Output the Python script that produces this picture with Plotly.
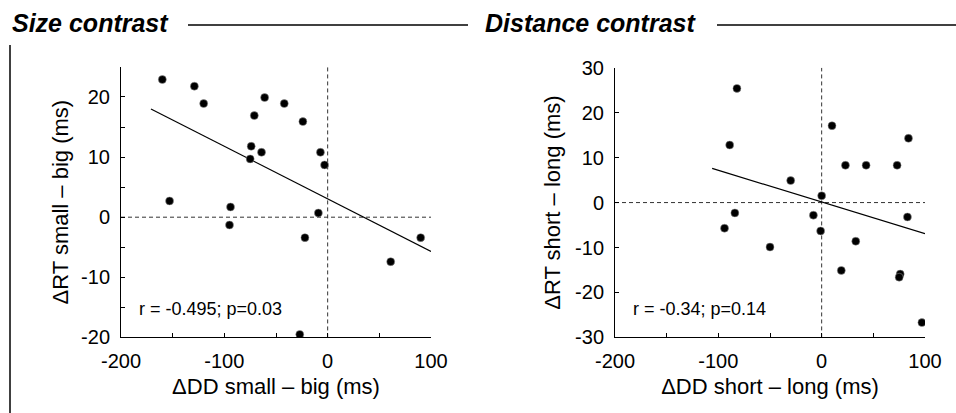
import plotly.graph_objects as go

# --- data ---
# Size contrast panel
size_dd = [-160, -129, -120, -61, -42, -71, -24, -74, -64, -75, -7, -3,
           -153, -94, -95, -9, -22, 90, 61, -27]
size_rt = [22.9, 21.8, 18.9, 19.9, 18.9, 16.9, 15.9, 11.8, 10.8, 9.7, 10.8, 8.7,
           2.7, 1.7, -1.3, 0.7, -3.4, -3.4, -7.4, -19.5]
size_fit_x = [-171, 100]
size_fit_y = [18.0, -5.7]

# Distance contrast panel
dist_dd = [-82, -89, 10, 84, 23, 43, 73, -30, 0, -84, -94, -8, -1, -50, 33, 83,
           19, 76, 75, 97]
dist_rt = [25.4, 12.8, 17.1, 14.3, 8.3, 8.3, 8.3, 4.9, 1.5, -2.3, -5.7, -2.8, -6.3,
           -9.9, -8.6, -3.2, -15.1, -15.9, -16.6, -26.7]
dist_fit_x = [-106, 100]
dist_fit_y = [7.6, -6.9]

# tick labels (hyphen minus as in the original)
x_ticks = [-200, -100, 0, 100]
x_labels = ["-200", "-100", "0", "100"]
size_y_ticks = [-20, -10, 0, 10, 20]
size_y_labels = ["-20", "-10", "0", "10", "20"]
dist_y_ticks = [-30, -20, -10, 0, 10, 20, 30]
dist_y_labels = ["-30", "-20", "-10", "0", "10", "20", "30"]

FONT = "Liberation Sans, Arial, sans-serif"
DASH = "4px,3px"

fig = go.Figure()

panels = [
    dict(xa="x", ya="y", dd=size_dd, rt=size_rt, fx=size_fit_x, fy=size_fit_y,
         yr=[-20, 25], stats="r = -0.495; p=0.03", sy=-15.3),
    dict(xa="x2", ya="y2", dd=dist_dd, rt=dist_rt, fx=dist_fit_x, fy=dist_fit_y,
         yr=[-30, 30], stats="r = -0.34; p=0.14", sy=-23.7),
]

for p in panels:
    # dashed zero lines
    fig.add_trace(go.Scatter(x=[-200, 100], y=[0, 0], mode="lines",
                             line=dict(color="#333", width=1, dash=DASH),
                             xaxis=p["xa"], yaxis=p["ya"], hoverinfo="skip"))
    fig.add_trace(go.Scatter(x=[0, 0], y=p["yr"], mode="lines",
                             line=dict(color="#333", width=1, dash=DASH),
                             xaxis=p["xa"], yaxis=p["ya"], hoverinfo="skip"))
    # regression line
    fig.add_trace(go.Scatter(x=p["fx"], y=p["fy"], mode="lines",
                             line=dict(color="black", width=1.2),
                             xaxis=p["xa"], yaxis=p["ya"]))
    # subjects
    fig.add_trace(go.Scatter(x=p["dd"], y=p["rt"], mode="markers",
                             marker=dict(color="black", size=8,
                                         line=dict(color="#999", width=0.5)),
                             xaxis=p["xa"], yaxis=p["ya"]))
    fig.add_annotation(x=-185, y=p["sy"], xref=p["xa"], yref=p["ya"],
                       text=p["stats"], showarrow=False, xanchor="left",
                       font=dict(size=18, color="black", family=FONT))

axis_common = dict(showline=True, linecolor="black", linewidth=1, ticks="inside",
                   ticklen=4, tickcolor="black", showgrid=False, zeroline=False,
                   automargin=False, ticklabelstandoff=6,
                   tickfont=dict(size=20, color="black", family=FONT),
                   title_font=dict(size=22, color="black", family=FONT))

fig.update_layout(
    width=956, height=413,
    margin=dict(l=0, r=0, t=0, b=0),
    paper_bgcolor="white", plot_bgcolor="white",
    showlegend=False,
    font=dict(family=FONT, color="black"),
    xaxis=dict(domain=[121 / 956, 431 / 956], range=[-200, 100],
               tickvals=x_ticks, ticktext=x_labels,
               minor=dict(dtick=50, ticks="inside", ticklen=4, tickcolor="black"),
               title=dict(text="ΔDD small – big (ms)", standoff=7), anchor="y",
               **axis_common),
    yaxis=dict(domain=[0.183, 0.838], range=[-20, 25],
               tickvals=size_y_ticks, ticktext=size_y_labels,
               minor=dict(dtick=5, ticks="inside", ticklen=4, tickcolor="black"),
               title=dict(text="ΔRT small – big (ms)", standoff=6), anchor="x",
               **axis_common),
    xaxis2=dict(domain=[615 / 956, 925 / 956], range=[-200, 100],
                tickvals=x_ticks, ticktext=x_labels,
                minor=dict(dtick=50, ticks="inside", ticklen=4, tickcolor="black"),
                title=dict(text="ΔDD short – long (ms)", standoff=7), anchor="y2",
                **axis_common),
    yaxis2=dict(domain=[0.183, 0.836], range=[-30, 30],
                tickvals=dist_y_ticks, ticktext=dist_y_labels,
                title=dict(text="ΔRT short – long (ms)", standoff=8), anchor="x2",
                **axis_common),
)

# section headers
for txt, x0, lx0, lx1 in [("Size contrast", 10, 188, 468),
                          ("Distance contrast", 483, 717, 956)]:
    fig.add_annotation(x=x0 / 956, y=1 - 23 / 413, xref="paper", yref="paper",
                       text="<b><i>" + txt + "</i></b>", showarrow=False,
                       xanchor="left", yanchor="middle",
                       font=dict(size=25, color="black", family=FONT))
    fig.add_shape(type="line", xref="paper", yref="paper",
                  x0=lx0 / 956, x1=lx1 / 956, y0=1 - 25 / 413, y1=1 - 25 / 413,
                  line=dict(color="black", width=1.5))

# left bracket line
fig.add_shape(type="line", xref="paper", yref="paper",
              x0=10 / 956, x1=10 / 956, y0=0, y1=1 - 45 / 413,
              line=dict(color="black", width=1.5))

fig.write_html("out.html", config={"displayModeBar": False},
               post_script="document.body.style.margin='0';"
                           "document.body.style.overflow='hidden';")
